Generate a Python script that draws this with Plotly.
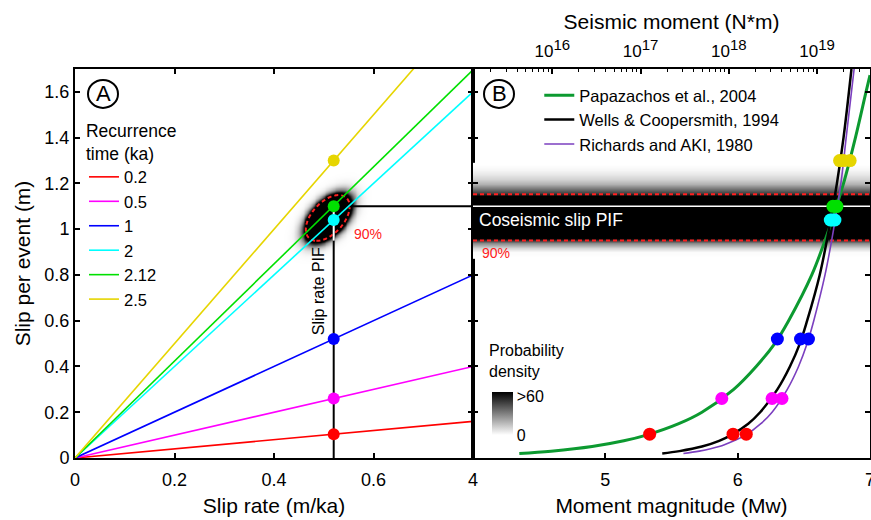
import numpy as np
import plotly.graph_objects as go

# ---------------- data ----------------
RECURRENCE_LABELS = ["0.2", "0.5", "1", "2", "2.12", "2.5"]
LINE_COLORS = ["#ff0000", "#ff00ff", "#0000ff", "#00ffff", "#00e000", "#e6d500"]
RATE_AXIS = [0.0, 0.8]                                   # slip rate (m/ka) at the panel edges
SLIP_AT_RATE_EDGE = [0.16, 0.40, 0.80, 1.60, 1.696, 2.00]  # slip per event at 0.8 m/ka
PIF_SLIP_RATE = 0.52
PIF_SLIP = [0.104, 0.26, 0.52, 1.04, 1.10, 1.30]
COSEISMIC_SLIP = 1.10
SLIP_90 = [0.95, 1.153]
SLIPRATE_90_TEXT_POS = (0.557, 0.98)

# joint probability blob (panel A)
BLOB_CENTER = (0.508, 1.049)
BLOB_SD = (0.0205, 0.0466)
BLOB_RHO = 0.50
BLOB_PEAK = 1000.0

# coseismic slip PIF profile (panel B band)
BAND_SLIP = [0.88, 0.90, 0.92, 0.94, 0.96, 0.98, 1.00, 1.02, 1.04, 1.06, 1.08,
             1.10, 1.12, 1.14, 1.16, 1.18, 1.20, 1.22, 1.24, 1.26, 1.28]
BAND_DENSITY = [0, 1, 10, 28, 58, 90, 120, 140, 150, 150, 140,
                120, 95, 65, 45, 30, 18, 10, 5, 2, 0]

MW_RANGE = [4.0, 7.0]
SLIP_RANGE = [0.0, 1.7]

# empirical relations (Mw vs slip)
PAPA_SLIP = [0.02, 0.03, 0.05, 0.075, 0.1, 0.15, 0.2, 0.3, 0.4, 0.5, 0.6, 0.8, 1.0, 1.2, 1.4, 1.6, 1.673]
PAPA_MW = [4.35, 4.59, 4.90, 5.14, 5.31, 5.555, 5.73, 5.97, 6.14, 6.28, 6.385, 6.56, 6.69, 6.80, 6.89, 6.97, 7.0]
CURVE_SLIP = [0.02, 0.03, 0.05, 0.075, 0.1, 0.15, 0.2, 0.3, 0.4, 0.5, 0.6, 0.8, 1.0, 1.2, 1.4, 1.7]
WELLS_MW = [5.43, 5.56, 5.73, 5.86, 5.95, 6.08, 6.17, 6.30, 6.395, 6.47, 6.525, 6.62, 6.69, 6.75, 6.80, 6.86]
RICH_MW = [5.59, 5.71, 5.86, 5.97, 6.06, 6.175, 6.26, 6.375, 6.46, 6.525, 6.575, 6.66, 6.725, 6.78, 6.82, 6.88]

PAPA_DOT_MW = [5.335, 5.88, 6.30, 6.715, 6.745, 6.85]
WELLS_DOT_MW = [5.965, 6.26, 6.475, 6.70, 6.72, 6.77]
RICH_DOT_MW = [6.065, 6.335, 6.535, 6.735, 6.75, 6.80]

MOMENT_TICKS = [1e16, 1e17, 1e18, 1e19]
MOMENT_LABELS = ["16", "17", "18", "19"]

FONT = "Liberation Sans, Arial, Helvetica, sans-serif"
GRAY = [[0, "white"], [1, "black"]]

fig = go.Figure()

# ---------- panel A: probability blob ----------
bx = np.linspace(0.40, 0.62, 121)
by = np.linspace(0.84, 1.26, 181)
X, Y = np.meshgrid(bx, by)
dx = (X - BLOB_CENTER[0]) / BLOB_SD[0]
dy = (Y - BLOB_CENTER[1]) / BLOB_SD[1]
q = (dx ** 2 - 2 * BLOB_RHO * dx * dy + dy ** 2) / (1 - BLOB_RHO ** 2)
Z = BLOB_PEAK * np.exp(-q / 2)
fig.add_trace(go.Heatmap(x=bx, y=by, z=Z, colorscale=GRAY, zmin=0, zmax=60,
                         zsmooth="best", showscale=False, hoverinfo="skip",
                         xaxis="x", yaxis="y"))
level90 = BLOB_PEAK * np.exp(-4.605 / 2)
fig.add_trace(go.Contour(x=bx, y=by, z=Z, showscale=False, hoverinfo="skip", showlegend=False,
                         contours=dict(start=level90, end=level90, size=1, coloring="none"),
                         line=dict(color="#ff2020", width=2, dash="4px,3px"),
                         xaxis="x", yaxis="y"))

# ---------- panel B: coseismic slip band ----------
fig.add_trace(go.Heatmap(x=MW_RANGE, y=BAND_SLIP, z=[[d, d] for d in BAND_DENSITY],
                         colorscale=GRAY, zmin=0, zmax=60, zsmooth="best",
                         hoverinfo="skip", xaxis="x2", yaxis="y2",
                         colorbar=dict(x=0.524, xanchor="left", xpad=0,
                                       y=0.114, yanchor="middle", ypad=0,
                                       len=43, lenmode="pixels", thickness=21,
                                       thicknessmode="pixels", tickvals=[0, 54],
                                       ticktext=["0", ">60"], ticks="",
                                       outlinewidth=0,
                                       tickfont=dict(size=16, family=FONT, color="black"))))

# ---------- panel A reference lines ----------
fig.add_trace(go.Scatter(x=[PIF_SLIP_RATE, PIF_SLIP_RATE], y=[SLIP_RANGE[0], COSEISMIC_SLIP],
                         mode="lines", line=dict(color="black", width=2),
                         showlegend=False, hoverinfo="skip", xaxis="x", yaxis="y"))
fig.add_trace(go.Scatter(x=[PIF_SLIP_RATE, PIF_SLIP_RATE], y=[SLIP_90[0], COSEISMIC_SLIP],
                         mode="lines", line=dict(color="white", width=2),
                         showlegend=False, hoverinfo="skip", xaxis="x", yaxis="y"))
fig.add_trace(go.Scatter(x=[PIF_SLIP_RATE, RATE_AXIS[1]], y=[COSEISMIC_SLIP, COSEISMIC_SLIP],
                         mode="lines", line=dict(color="black", width=2),
                         showlegend=False, hoverinfo="skip", xaxis="x", yaxis="y"))

# ---------- panel A recurrence lines ----------
for lab, col, yend in zip(RECURRENCE_LABELS, LINE_COLORS, SLIP_AT_RATE_EDGE):
    fig.add_trace(go.Scatter(x=RATE_AXIS, y=[0, yend], mode="lines", name=lab,
                             line=dict(color=col, width=1.6), legend="legend",
                             xaxis="x", yaxis="y"))
fig.add_trace(go.Scatter(x=[PIF_SLIP_RATE] * len(PIF_SLIP), y=PIF_SLIP, mode="markers",
                         marker=dict(color=LINE_COLORS, size=12), showlegend=False,
                         xaxis="x", yaxis="y"))

# ---------- panel B reference lines ----------
fig.add_trace(go.Scatter(x=MW_RANGE, y=[COSEISMIC_SLIP] * 2, mode="lines",
                         line=dict(color="white", width=1.5), showlegend=False,
                         hoverinfo="skip", xaxis="x2", yaxis="y2"))
for s in SLIP_90:
    fig.add_trace(go.Scatter(x=MW_RANGE, y=[s, s], mode="lines",
                             line=dict(color="#ff2020", width=2, dash="4px,3px"),
                             showlegend=False, hoverinfo="skip", xaxis="x2", yaxis="y2"))

# ---------- panel B curves ----------
fig.add_trace(go.Scatter(x=PAPA_MW, y=PAPA_SLIP, mode="lines", name="Papazachos et al., 2004",
                         line=dict(color="#0c9a30", width=3, shape="spline"), legend="legend2",
                         xaxis="x2", yaxis="y2"))
fig.add_trace(go.Scatter(x=WELLS_MW, y=CURVE_SLIP, mode="lines", name="Wells & Coopersmith, 1994",
                         line=dict(color="black", width=2.5, shape="spline"), legend="legend2",
                         xaxis="x2", yaxis="y2"))
fig.add_trace(go.Scatter(x=RICH_MW, y=CURVE_SLIP, mode="lines", name="Richards and AKI, 1980",
                         line=dict(color="#7b3fbf", width=1.6, shape="spline"), legend="legend2",
                         xaxis="x2", yaxis="y2"))
for mws in (PAPA_DOT_MW, WELLS_DOT_MW, RICH_DOT_MW):
    fig.add_trace(go.Scatter(x=mws, y=PIF_SLIP, mode="markers",
                             marker=dict(color=LINE_COLORS, size=13), showlegend=False,
                             xaxis="x2", yaxis="y2"))

# invisible trace carrying the seismic-moment axis
fig.add_trace(go.Scatter(x=MOMENT_TICKS, y=[None] * len(MOMENT_TICKS), mode="markers",
                         showlegend=False, hoverinfo="skip", xaxis="x3", yaxis="y2"))

# ---------- layout ----------
tickfont = dict(size=18, family=FONT, color="black")
titlefont = dict(size=21, family=FONT, color="black")
common = dict(showline=True, linewidth=2, linecolor="black", ticks="inside", ticklen=5,
              tickwidth=1.5, tickcolor="black", showgrid=False, zeroline=False,
              tickfont=tickfont, automargin=False)
split = 398 / 795
m_lo = 1.5 * MW_RANGE[0] + 9.1
m_hi = 1.5 * MW_RANGE[1] + 9.1
minor_vals = [float(m) * 10.0 ** e for e in range(15, 20) for m in range(2, 10)
              if m_lo <= np.log10(float(m) * 10.0 ** e) <= m_hi]
moment_text = ["10<span style='font-size:15px;baseline-shift:45%'>" + t + "</span>"
               for t in MOMENT_LABELS]

fig.update_layout(
    width=871, height=520, margin=dict(l=75, r=1, t=69, b=62),
    paper_bgcolor="white", plot_bgcolor="white",
    font=dict(family=FONT, color="black", size=18),
    xaxis=dict(domain=[0, split], range=RATE_AXIS, tickvals=[0, 0.2, 0.4, 0.6], mirror="ticks",
               anchor="y", ticklabelstandoff=4,
               title=dict(text="Slip rate (m/ka)", font=titlefont, standoff=10), **common),
    yaxis=dict(domain=[0, 1], range=SLIP_RANGE, dtick=0.2, tick0=0, mirror="ticks", anchor="x",
               title=dict(text="Slip per event (m)", font=titlefont, standoff=8), **common),
    xaxis2=dict(domain=[split, 1], range=MW_RANGE, tickvals=[4, 5, 6, 7], mirror=True, anchor="y2",
                ticklabelstandoff=4, ticklabeloverflow="allow",
                title=dict(text="Moment magnitude (Mw)", font=titlefont, standoff=10), **common),
    yaxis2=dict(domain=[0, 1], range=SLIP_RANGE, dtick=0.2, tick0=0, mirror="ticks", anchor="x2",
                showticklabels=False, **common),
    xaxis3=dict(overlaying="x2", side="top", anchor="y2", type="log", range=[m_lo, m_hi],
                tickmode="array", tickvals=MOMENT_TICKS, automargin=False,
                ticktext=moment_text, ticklabelstandoff=8,
                ticks="inside", ticklen=5, tickwidth=1.5, tickcolor="black", showline=False,
                showgrid=False, zeroline=False, tickfont=dict(size=17, family=FONT, color="black"),
                minor=dict(tickmode="array", tickvals=minor_vals, ticks="inside", ticklen=3,
                           tickwidth=1, tickcolor="black", showgrid=False),
                title=dict(text="Seismic moment (N*m)", font=titlefont, standoff=0)),
    legend=dict(x=0.0113, y=0.884, xanchor="left", yanchor="top", bgcolor="rgba(0,0,0,0)",
                borderwidth=0, font=dict(size=16.5, family=FONT, color="black"),
                title=dict(text="Recurrence<br>time (ka)", font=dict(size=17.5, family=FONT)),
                tracegroupgap=0, itemwidth=30),
    legend2=dict(x=0.584, y=0.977, xanchor="left", yanchor="top", bgcolor="rgba(0,0,0,0)",
                 borderwidth=0, font=dict(size=16.5, family=FONT, color="black"), itemwidth=30),
    showlegend=True,
)

# panel labels (circled letters)
for xref, yref, xa, letter in (("x domain", "y domain", (103 - 75) / 398, "A"),
                                ("x2 domain", "y2 domain", (499 - 473) / 397, "B")):
    fig.add_shape(type="circle", xref=xref, yref=yref, xsizemode="pixel", ysizemode="pixel",
                  xanchor=xa, yanchor=0.936, x0=-15, x1=15, y0=-14, y1=14,
                  line=dict(color="black", width=2))
    fig.add_annotation(xref=xref, yref=yref, x=xa, y=0.936, text=letter, showarrow=False,
                       font=dict(size=22, family=FONT, color="black"),
                       xanchor="center", yanchor="middle")

fig.add_annotation(xref="x", yref="y", x=0.49, y=0.728, text="Slip rate PIF", textangle=-90,
                   showarrow=False, font=dict(size=16, family=FONT, color="black"))
fig.add_annotation(xref="x", yref="y", x=SLIPRATE_90_TEXT_POS[0], y=SLIPRATE_90_TEXT_POS[1],
                   text="90%", xanchor="left", showarrow=False,
                   font=dict(size=14, family=FONT, color="#ff2020"))
fig.add_annotation(xref="x2 domain", yref="y2", x=0.01, y=1.041, text="Coseismic slip PIF",
                   xanchor="left", showarrow=False, font=dict(size=17.5, family=FONT, color="white"))
fig.add_annotation(xref="x2 domain", yref="y2", x=0.018, y=0.896, text="90%",
                   xanchor="left", showarrow=False, font=dict(size=14, family=FONT, color="#ff2020"))
fig.add_annotation(xref="x2 domain", yref="y2", x=0.036, y=0.424, text="Probability<br>density",
                   xanchor="left", align="left", showarrow=False,
                   font=dict(size=16, family=FONT, color="black"))

fig.write_html("out.html", config={"displayModeBar": False},
               post_script="document.body.style.margin='0';")
